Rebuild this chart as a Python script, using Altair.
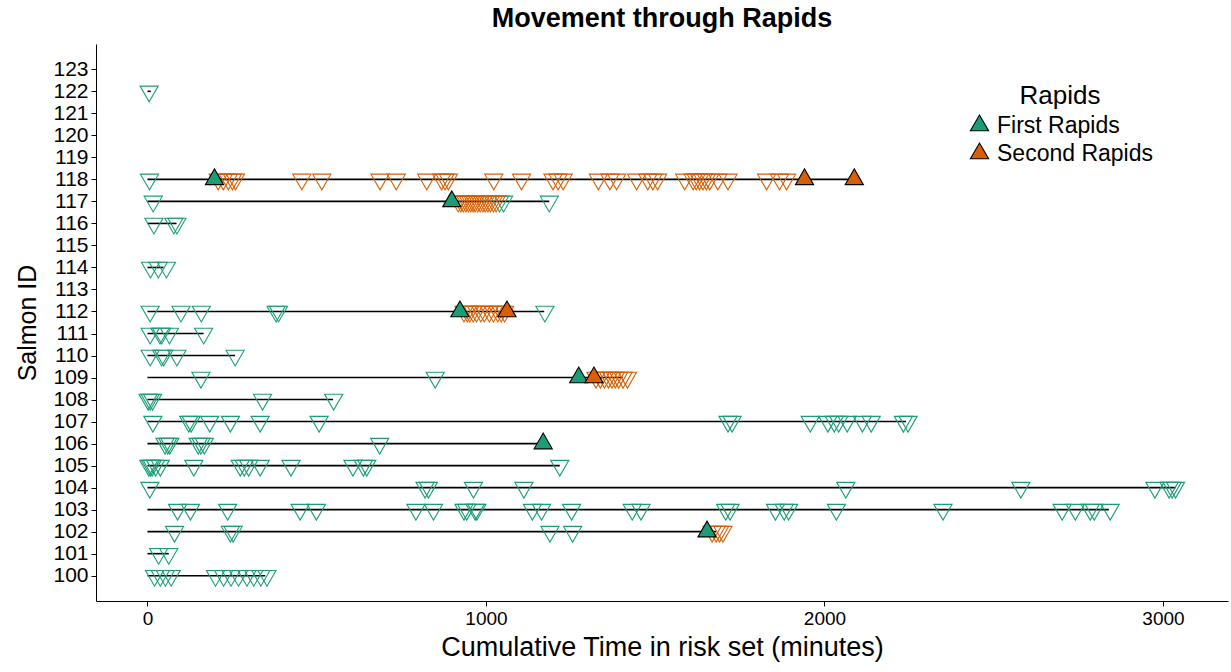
import altair as alt
import pandas as pd

# ---------------- data ----------------
line_ids = [100, 101, 102, 103, 104, 105, 106, 107, 108, 109, 110, 111, 112, 114, 116, 117, 118, 122]
line_end = [348, 63, 1680, 2840, 3037, 1218, 1169, 2241, 548, 1404, 259, 166, 1172, 47, 86, 1187, 2105, 10]

# detections (open down triangles) while in the first rapids section
first_det = {
    100: [21, 38, 53, 70, 201, 225, 247, 269, 294, 314, 335, 353],
    101: [33, 63],
    102: [80, 245, 253, 1189, 1256],
    103: [89, 127, 237, 451, 499, 793, 845, 935, 943, 968, 973, 1137, 1164, 1253, 1432, 1458,
          1708, 1721, 1855, 1881, 1894, 2035, 2350, 2702, 2741, 2785, 2797, 2844],
    104: [7, 820, 830, 963, 1112, 2063, 2580, 2976, 3018, 3027, 3037],
    105: [4, 9, 14, 24, 38, 137, 274, 286, 299, 333, 424, 607, 638, 648, 1218],
    106: [52, 60, 66, 150, 158, 168, 686],
    107: [16, 122, 129, 184, 245, 333, 507, 1715, 1727, 1958, 2010, 2029, 2042, 2067, 2112, 2138, 2233, 2247],
    108: [2, 8, 15, 340, 550],
    109: [158, 850],
    110: [8, 42, 48, 87, 259],
    111: [8, 37, 42, 65, 166],
    112: [8, 99, 159, 380, 387, 1174],
    114: [9, 32, 56],
    116: [19, 78, 87],
    117: [17, 1040, 1052, 1187],
    118: [6],
    122: [5],
}
# detections while in the second rapids section
second_det = {
    102: [1668, 1680, 1690, 1700],
    109: [1325, 1338, 1350, 1362, 1372, 1382, 1392, 1405, 1418],
    112: [935, 945, 952, 962, 972, 985, 995, 1010, 1022, 1035, 1045, 1055],
    117: [918, 926, 933, 941, 948, 955, 962, 968, 976, 983, 991, 998, 1006, 1013, 1022, 1030],
    118: [209, 224, 239, 251, 260, 456, 515, 687, 735, 825, 869, 879, 889, 1023, 1105, 1198, 1213,
          1228, 1332, 1366, 1386, 1445, 1478, 1493, 1507, 1587, 1612, 1621, 1631, 1641, 1651, 1661,
          1685, 1715, 1829, 1867, 1888],
}
# passage events (filled up triangles)
pass_ids = [118, 118, 118, 117, 112, 112, 109, 109, 106, 102]
pass_time = [198, 1941, 2088, 899, 923, 1062, 1274, 1319, 1169, 1653]
pass_rapid = ["First Rapids", "Second Rapids", "Second Rapids", "First Rapids", "First Rapids",
              "Second Rapids", "First Rapids", "Second Rapids", "First Rapids", "First Rapids"]

y_ticks = list(range(100, 124))
x_ticks = [0, 1000, 2000, 3000]
rapid_names = ["First Rapids", "Second Rapids"]
rapid_colors = ["#1B9E77", "#D95F02"]

# ---------------- tables ----------------
lines_df = pd.DataFrame({"id": line_ids, "start": [0] * len(line_ids), "end": line_end})
first_df = pd.DataFrame([{"id": k, "time": t} for k, v in first_det.items() for t in v])
second_df = pd.DataFrame([{"id": k, "time": t} for k, v in second_det.items() for t in v])
pass_df = pd.DataFrame({"id": pass_ids, "time": pass_time, "Rapids": pass_rapid})

FONT = "Liberation Sans"
DOWN = "M-1,-0.577L1,-0.577L0,1.155Z"
UP = "M-1,0.577L1,0.577L0,-1.155Z"

xscale = alt.Scale(domain=[-152, 3192], nice=False, zero=False)
yscale = alt.Scale(domain=[98.85, 124.15], nice=False, zero=False)
cscale = alt.Scale(domain=rapid_names, range=rapid_colors)

xaxis = alt.Axis(values=x_ticks, format="d", title="Cumulative Time in risk set (minutes)",
                 grid=False, domainColor="black", tickColor="black", tickSize=5,
                 labelColor="black", labelFontSize=19, labelFont=FONT, labelPadding=3,
                 titleFont=FONT, titleFontSize=27, titleFontWeight="normal", titleColor="black",
                 titlePadding=6, labelFlush=False, labelOverlap=False)
yaxis = alt.Axis(values=y_ticks, format="d", title="Salmon ID", tickCount=24,
                 grid=False, domainColor="black", tickColor="black", tickSize=5,
                 labelColor="black", labelFontSize=21, labelFont=FONT, labelPadding=3,
                 titleFont=FONT, titleFontSize=25, titleFontWeight="normal", titleColor="black",
                 titlePadding=12, labelFlush=False, labelOverlap=False, labelBound=False)

X = lambda f: alt.X(f, scale=xscale, axis=xaxis)
Y = lambda f: alt.Y(f, scale=yscale, axis=yaxis)

lines = alt.Chart(lines_df).mark_rule(color="black", strokeWidth=1.6).encode(
    x=X("start:Q"), x2="end:Q", y=Y("id:Q"),
)

dets_first = alt.Chart(first_df).mark_point(shape=DOWN, size=330, filled=False, strokeWidth=1.1,
                                            opacity=1, color=rapid_colors[0]).encode(
    x=X("time:Q"), y=Y("id:Q"),
)
dets_second = alt.Chart(second_df).mark_point(shape=DOWN, size=330, filled=False, strokeWidth=1.1,
                                              opacity=1, color=rapid_colors[1]).encode(
    x=X("time:Q"), y=Y("id:Q"),
)

passes = alt.Chart(pass_df).mark_point(shape=UP, size=330, filled=True, stroke="black",
                                       strokeWidth=1.1, opacity=1).encode(
    x=X("time:Q"), y=Y("id:Q"),
    fill=alt.Fill("Rapids:N", scale=cscale,
                  legend=alt.Legend(orient="none", legendX=872, legendY=39, direction="vertical",
                                    title="Rapids", titleFont=FONT, titleFontSize=26,
                                    titleFontWeight="normal", titleColor="black",
                                    titleAnchor="middle", titlePadding=5,
                                    labelFont=FONT, labelFontSize=23, labelColor="black",
                                    labelOffset=6, symbolType=UP, symbolSize=330,
                                    symbolStrokeColor="black", symbolStrokeWidth=1.1,
                                    symbolOpacity=1, rowPadding=2, padding=0)),
)

chart = alt.layer(lines, dets_first, dets_second, passes).properties(
    width=1132, height=557,
    autosize=alt.AutoSizeParams(type="none"),
    padding={"left": 96, "top": 44, "right": 3, "bottom": 71},
    title=alt.Title("Movement through Rapids", font=FONT, fontSize=27, fontWeight="bold",
                    color="black", anchor="middle", offset=11),
).configure(background="white").configure_view(stroke=None).configure_axis(labelOverlap=False)

chart.save("out.html", embed_options={"renderer": "svg", "actions": False})
